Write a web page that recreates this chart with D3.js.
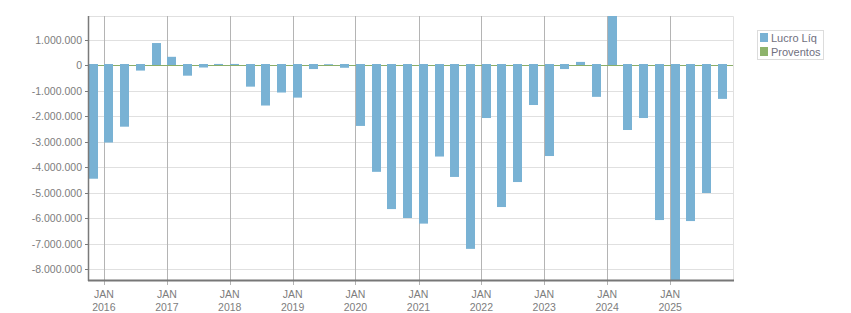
<!DOCTYPE html>
<html>
<head>
<meta charset="utf-8">
<script src="https://cdn.jsdelivr.net/npm/d3@7"></script>
<style>
    body { margin: 0; background: #fff; }
    svg { display: block; font-family: "Liberation Sans", Arial, sans-serif; }
</style>
</head>
<body>
<svg width="851" height="313"></svg>
<script>
// quarters from Q4 2015 to Q4 2025
const quarters = [
    "2015-10", "2016-01", "2016-04", "2016-07", "2016-10", "2017-01", "2017-04", "2017-07",
    "2017-10", "2018-01", "2018-04", "2018-07", "2018-10", "2019-01", "2019-04", "2019-07",
    "2019-10", "2020-01", "2020-04", "2020-07", "2020-10", "2021-01", "2021-04", "2021-07",
    "2021-10", "2022-01", "2022-04", "2022-07", "2022-10", "2023-01", "2023-04", "2023-07",
    "2023-10", "2024-01", "2024-04", "2024-07", "2024-10", "2025-01", "2025-04", "2025-07",
    "2025-10"
];

const lucroLiq = [
    -4450000, -3030000, -2410000, -210000, 870000, 330000, -410000, -90000,
    50000, 50000, -840000, -1580000, -1070000, -1270000, -150000, 40000,
    -100000, -2380000, -4180000, -5640000, -5990000, -6210000, -3580000, -4380000,
    -7200000, -2070000, -5560000, -4580000, -1560000, -3560000, -150000, 130000,
    -1240000, 1930000, -2540000, -2070000, -6070000, -8460000, -6110000, -5010000,
    -1320000
];

const proventos = quarters.map(() => 0);

const yTicks = [1000000, 0, -1000000, -2000000, -3000000, -4000000, -5000000, -6000000, -7000000, -8000000];
const xTickYears = [2016, 2017, 2018, 2019, 2020, 2021, 2022, 2023, 2024, 2025];

const legendItems = [
    { name: "Lucro Líq", color: "#79b2d4" },
    { name: "Proventos", color: "#8db36b" }
];

const parseMonth = d3.timeParse("%Y-%m");

function drawGraph() {
    const svg = d3.select("svg");

    const attr_area = {
        left: 88,
        top: 16,
        right: 733,
        bottom: 281
    };

    const data = quarters.map((q, i) => ({ date: parseMonth(q), value: lucroLiq[i] }));

    const scaleX = d3.scaleTime()
        .domain([parseMonth("2015-10"), parseMonth("2026-01")])
        .range([attr_area.left, attr_area.right]);

    const scaleY = d3.scaleLinear()
        .domain(d3.extent(lucroLiq))
        .range([attr_area.bottom, attr_area.top]);

    const locale = d3.formatLocale({ decimal: ",", thousands: ".", grouping: [3], currency: ["", ""], minus: "-" });
    const fmt = locale.format(",d");

    // horizontal grid
    svg.append("g")
        .selectAll("line")
        .data(yTicks)
        .enter()
        .append("line")
        .attr("x1", attr_area.left)
        .attr("x2", attr_area.right)
        .attr("y1", d => Math.round(scaleY(d)) + 0.5)
        .attr("y2", d => Math.round(scaleY(d)) + 0.5)
        .attr("stroke", "#e0e0e0");

    // frame top / right
    svg.append("path")
        .attr("d", `M${attr_area.left},${attr_area.top + 0.5}H${attr_area.right + 0.5}V${attr_area.bottom}`)
        .attr("fill", "none")
        .attr("stroke", "#e0e0e0");

    // vertical grid at january
    svg.append("g")
        .selectAll("line")
        .data(xTickYears)
        .enter()
        .append("line")
        .attr("x1", d => Math.round(scaleX(new Date(d, 0, 1))) + 0.5)
        .attr("x2", d => Math.round(scaleX(new Date(d, 0, 1))) + 0.5)
        .attr("y1", attr_area.top)
        .attr("y2", attr_area.bottom + 4)
        .attr("stroke", "#b4b4b4");

    // proventos (all zero) drawn as line
    const line = d3.line()
        .x(d => d[0])
        .y(d => Math.round(scaleY(d[1])) + 0.5);

    svg.append("path")
        .datum([[attr_area.left, d3.max(proventos)], [attr_area.right, d3.max(proventos)]])
        .attr("fill", "none")
        .attr("stroke", "#8aae68")
        .attr("stroke-width", 1.2)
        .attr("d", line);

    // bars
    svg.append("clipPath")
        .attr("id", "plot")
        .append("rect")
        .attr("x", attr_area.left)
        .attr("y", attr_area.top)
        .attr("width", attr_area.right - attr_area.left)
        .attr("height", attr_area.bottom - attr_area.top);

    const quarterW = scaleX(parseMonth("2016-01")) - scaleX(parseMonth("2015-10"));
    const y0 = Math.round(scaleY(0));

    svg.append("g")
        .attr("clip-path", "url(#plot)")
        .selectAll("rect")
        .data(data)
        .enter()
        .append("rect")
        .attr("x", d => Math.round(scaleX(d.date) + 0.5))
        .attr("width", Math.round(quarterW * 0.57))
        .attr("y", d => d.value < 0 ? y0 - 1 : scaleY(d.value))
        .attr("height", d => d.value < 0 ? scaleY(d.value) - y0 + 1 : y0 - scaleY(d.value))
        .attr("fill", legendItems[0].color);

    // left axis
    svg.append("line")
        .attr("x1", attr_area.left + 0.5)
        .attr("x2", attr_area.left + 0.5)
        .attr("y1", attr_area.top)
        .attr("y2", attr_area.bottom)
        .attr("stroke", "#7a7a7a")
        .attr("stroke-width", 1.5);

    const yLabels = svg.append("g");
    yTicks.forEach(t => {
        const yy = Math.round(scaleY(t)) + 0.5;
        yLabels.append("line")
            .attr("x1", attr_area.left - 3)
            .attr("x2", attr_area.left)
            .attr("y1", yy)
            .attr("y2", yy)
            .attr("stroke", "#7a7a7a");
        yLabels.append("text")
            .attr("x", attr_area.left - 6)
            .attr("y", yy)
            .attr("dy", "0.35em")
            .attr("text-anchor", "end")
            .attr("font-size", 10.5)
            .attr("fill", "#7d7d7d")
            .text(fmt(t));
    });

    // bottom axis
    svg.append("line")
        .attr("x1", attr_area.left)
        .attr("x2", attr_area.right + 1)
        .attr("y1", attr_area.bottom - 0.5)
        .attr("y2", attr_area.bottom - 0.5)
        .attr("stroke", "#777")
        .attr("stroke-width", 2);

    const xLabels = svg.append("g")
        .attr("font-size", 10.5)
        .attr("fill", "#7d7d7d")
        .attr("text-anchor", "middle");

    xTickYears.forEach(yr => {
        const xx = scaleX(new Date(yr, 0, 1));
        xLabels.append("text").attr("x", xx).attr("y", 298).text("JAN");
        xLabels.append("text").attr("x", xx).attr("y", 310.5).text(yr);
    });

    // legend
    const legend = svg.append("g");
    legend.append("rect")
        .attr("x", 757.5)
        .attr("y", 30.5)
        .attr("width", 66)
        .attr("height", 29)
        .attr("fill", "#fff")
        .attr("stroke", "#dcdcdc");

    legendItems.forEach((item, i) => {
        legend.append("rect")
            .attr("x", 760)
            .attr("y", 33 + i * 14)
            .attr("width", 8)
            .attr("height", 9)
            .attr("fill", item.color);
        legend.append("text")
            .attr("x", 771)
            .attr("y", 42 + i * 14)
            .attr("font-size", 11)
            .attr("fill", "#707080")
            .text(item.name);
    });
}

drawGraph();
</script>
</body>
</html>
